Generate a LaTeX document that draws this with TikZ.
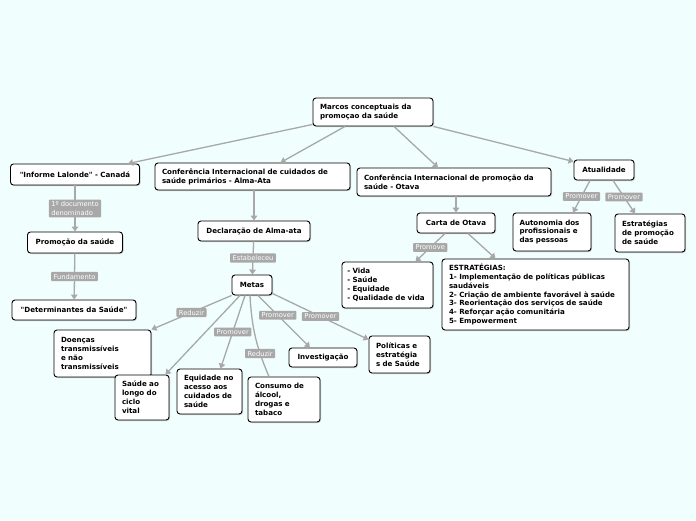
\documentclass[tikz,border=0pt]{standalone}
\usepackage{fontspec}
\setmainfont{DejaVu Sans}
\usetikzlibrary{arrows.meta,shadows}
\definecolor{mapbg}{RGB}{240,254,254}
\definecolor{linkgray}{RGB}{168,168,168}

\begin{document}
\begin{tikzpicture}[x=1pt, y=-1pt,
      topic/.style={draw, fill=white, line width=0.9pt, rounded corners=3pt,
                  drop shadow={shadow xshift=1pt, shadow yshift=-1pt, fill=black!35, opacity=.6},
                  font=\fontsize{7.1}{8.9}\selectfont\bfseries, align=left,
                  inner xsep=7pt, inner ysep=0pt},
      single/.style={topic, align=center, inner xsep=0pt},
      lbl/.style={fill=linkgray, text=white, rounded corners=1pt, align=left,
                  font=\fontsize{6.7}{8.8}\selectfont, inner xsep=2.5pt, inner ysep=2pt},
      link/.style={line width=1.3pt, draw=linkgray},
      arr/.style={link, -{Triangle[width=6.5pt,length=5pt]}}
  ]
    \fill[mapbg] (0,0) rectangle (696,520);
    \useasboundingbox (0,0) rectangle (696,520);

    % main topic and first level
    \node[topic, text width=106pt, minimum height=28pt] (root) at (373,112) {Marcos conceptuais da\\promoçao da saúde};
    \node[single, minimum width=129pt, minimum height=21pt] (lalonde) at (75,174.5) {\textquotedbl Informe Lalonde\textquotedbl{} - Canadá};
    \node[topic, text width=181pt, minimum height=27pt] (almaconf) at (252.5,176.5) {Conferência Internacional de cuidados de\\saúde primários - Alma-Ata};
    \node[topic, text width=180pt, minimum height=28pt] (otavaconf) at (454,182) {Conferência Internacional de promoção da\\saúde - Otava};
    \node[single, minimum width=60pt, minimum height=20pt] (atual) at (604,170) {Atualidade};

    % Lalonde branch
    \node[single, minimum width=95pt, minimum height=21pt] (promo) at (75,242.5) {Promoção da saúde};
    \node[single, minimum width=124pt, minimum height=20pt] (determ) at (74,310) {\textquotedbl Determinantes da Saúde\textquotedbl};

    % Alma-Ata branch
    \node[single, minimum width=112pt, minimum height=20pt] (decl) at (254,231) {Declaração de Alma-ata};
    \node[single, minimum width=40pt, minimum height=20pt] (metas) at (252,285) {Metas};
    \node[topic, text width=83pt, minimum height=47pt] (doencas) at (102.5,353.5) {Doenças\\transmissíveis\\e não\\transmissíveis};
    \node[topic, text width=40pt, minimum height=45pt] (saude) at (142,397.5) {Saúde ao\\longo do\\ciclo\\vital};
    \node[topic, text width=51pt, minimum height=45pt] (equid) at (209.5,391.5) {Equidade no\\acesso aos\\cuidados de\\saúde};
    \node[topic, text width=58pt, minimum height=45pt] (consumo) at (284,399.5) {Consumo de\\álcool,\\drogas e\\tabaco};
    \node[single, minimum width=68pt, minimum height=19pt] (invest) at (323,357.5) {Investigação};
    \node[topic, text width=47pt, minimum height=37pt] (polit) at (399.5,354.5) {Políticas e\\estratégia\\s de Saúde};

    % Otava branch
    \node[single, minimum width=78pt, minimum height=20pt] (carta) at (456,223) {Carta de Otava};
    \node[topic, inner xsep=5.25pt, text width=80.5pt, minimum height=46pt] (vida) at (387.5,285) {- Vida\\- Saúde\\- Equidade\\- Qualidade de vida};
    \node[topic, text width=173pt, minimum height=71pt] (estrat) at (535.5,294.5) {ESTRATÉGIAS:\\1- Implementação de políticas públicas\\saudáveis\\2- Criação de ambiente favorável à saúde\\3- Reorientação dos serviços de saúde\\4- Reforçar ação comunitária\\5- Empowerment};

    % Atualidade branch
    \node[topic, inner xsep=6.5pt, text width=65pt, minimum height=38pt] (auton) at (552,232) {Autonomia dos\\profissionais e\\das pessoas};
    \node[topic, text width=56pt, minimum height=38pt] (estpro) at (650,233) {Estratégias\\de promoção\\de saúde};

    % connectors
    \draw[arr] ([yshift=2pt]root.south west) -- ([xshift=53pt]lalonde.north);
    \draw[arr] ([xshift=-28pt]root.south) -- ([xshift=28pt]almaconf.north);
    \draw[arr] ([xshift=21pt]root.south) -- ([xshift=-16pt]otavaconf.north);
    \draw[arr] (root.south east) -- ([yshift=-2pt]atual.north west);

    \draw[arr] (lalonde) -- node[lbl]{1º documento\\denominado} (promo);
    \draw[arr] (promo) -- node[lbl]{Fundamento} (determ);

    \draw[arr] (almaconf.south -| decl.north) -- (decl.north);
    \draw[arr] (decl) -- node[lbl]{Estabeleceu} (metas);
    \draw[arr] (metas.south west) -- node[lbl]{Reduzir} (doencas.north east);
    \draw[arr] ([xshift=-12pt]metas.south) -- ([xshift=-4pt]saude.north east);
    \draw[arr] ([xshift=-7pt]metas.south) -- node[lbl]{Promover} ([xshift=11pt]equid.north);
    \draw[link] ([xshift=-2pt]metas.south) to[bend right=10] node[lbl, pos=0.72]{Reduzir} ([xshift=-15pt]consumo.north);
    \draw[arr] ([xshift=6pt]metas.south) -- node[lbl, pos=0.38]{Promover} ([xshift=-13pt]invest.north);
    \draw[arr] ([yshift=2pt]metas.south east) -- node[lbl]{Promover} ([yshift=-4pt]polit.north west);

    \draw[arr] (otavaconf.south -| carta.north) -- (carta.north);
    \draw[arr] ([xshift=-11pt]carta.south) -- node[lbl]{Promove} ([xshift=28pt]vida.north);
    \draw[arr] ([xshift=12pt]carta.south) -- ([xshift=-40pt]estrat.north);

    \draw[arr] ([xshift=-14pt]atual.south) -- node[lbl]{Promover} ([xshift=21pt]auton.north);
    \draw[arr] ([xshift=9pt]atual.south) -- node[lbl]{Promover} ([xshift=-15pt]estpro.north);
  \end{tikzpicture}
\end{document}
